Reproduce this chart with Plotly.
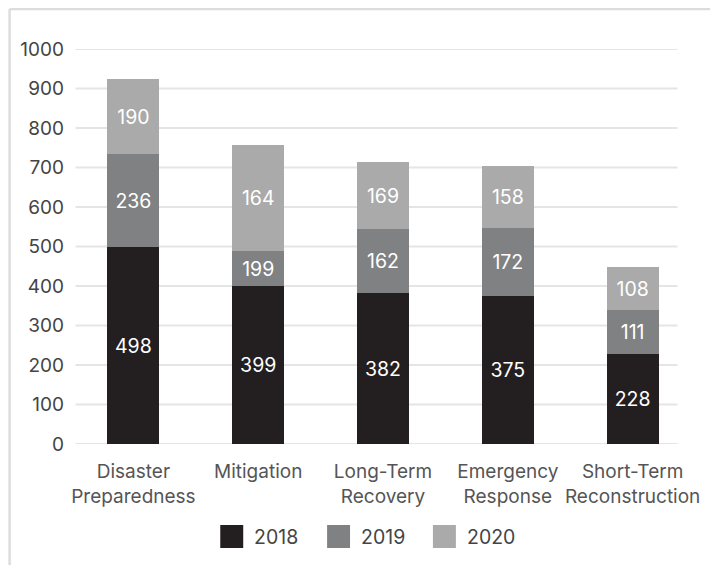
import plotly.graph_objects as go

categories = ["Disaster<br>Preparedness", "Mitigation", "Long-Term<br>Recovery",
              "Emergency<br>Response", "Short-Term<br>Reconstruction"]
years = ["2018", "2019", "2020"]
# segment heights as drawn in the picture
v2018 = [498, 399, 382, 375, 228]
v2019 = [236, 90, 162, 172, 111]
v2020 = [190, 268, 169, 158, 108]
# labels printed on the segments
t2018 = ["498", "399", "382", "375", "228"]
t2019 = ["236", "199", "162", "172", "111"]
t2020 = ["190", "164", "169", "158", "108"]
colors = ["#231f20", "#808183", "#a9aaa9"]
yticks = list(range(0, 1001, 100))

OFF = 8  # page body margin
W, H = 718 - OFF, 565 - OFF
L, R, T, B = 70.5 - OFF, 695.5 - OFF, 49 - OFF, 444 - OFF
FONT = "Inter"

def px(x):
    return (x - OFF - L) / (R - L)

def py(y):
    return (B - (y - OFF)) / (B - T)

fig = go.Figure()
for vals, txt, col in zip([v2018, v2019, v2020], [t2018, t2019, t2020], colors):
    fig.add_trace(go.Bar(x=categories, y=vals, text=txt, marker_color=col,
                         marker_line_width=0, textposition="inside",
                         insidetextanchor="middle", textangle=0,
                         textfont=dict(color="white", size=19.5, family=FONT),
                         showlegend=False, hoverinfo="skip"))

shapes = []
for t in yticks:
    shapes.append(dict(type="line", xref="paper", yref="y", x0=px(75), x1=px(678),
                       y0=t, y1=t, line=dict(color="#e5e5e5", width=2), layer="below"))
# frame
shapes.append(dict(type="line", xref="paper", yref="paper", x0=px(OFF + 1), x1=px(718 + 5),
                   y0=py(OFF + 1), y1=py(OFF + 1), line=dict(color="#dcdcdc", width=2.5)))
shapes.append(dict(type="line", xref="paper", yref="paper", x0=px(OFF + 1), x1=px(OFF + 1),
                   y0=py(OFF + 1), y1=py(565 + 5), line=dict(color="#dcdcdc", width=2.5)))

annotations = []
leg_x = [220, 327, 433]
for lx, yr, col in zip(leg_x, years, colors):
    shapes.append(dict(type="rect", xref="paper", yref="paper", x0=px(lx), x1=px(lx + 23),
                       y0=py(525), y1=py(548), fillcolor=col, line=dict(width=0)))
    annotations.append(dict(xref="paper", yref="paper", x=px(lx + 32), y=py(536.5),
                            text=yr, showarrow=False, xanchor="left", yanchor="middle",
                            font=dict(family=FONT, size=19.5, color="#444444")))

fig.update_layout(
    width=W, height=H, barmode="stack", bargap=0.584,
    margin=dict(l=L, r=W - R, t=T, b=H - B, pad=0),
    paper_bgcolor="white", plot_bgcolor="white",
    font=dict(family=FONT, size=18, color="#555555"),
    shapes=shapes, annotations=annotations, showlegend=False,
    xaxis=dict(showgrid=False, showline=False, zeroline=False, ticks="",
               tickfont=dict(size=19, color="#555555"), ticklabelstandoff=14),
    yaxis=dict(range=[0, 1000], tickvals=yticks, showgrid=False, zeroline=False,
               showline=False, ticks="", ticklabelstandoff=6,
               tickfont=dict(size=19, color="#444444")),
)
fig.write_html("out.html")
